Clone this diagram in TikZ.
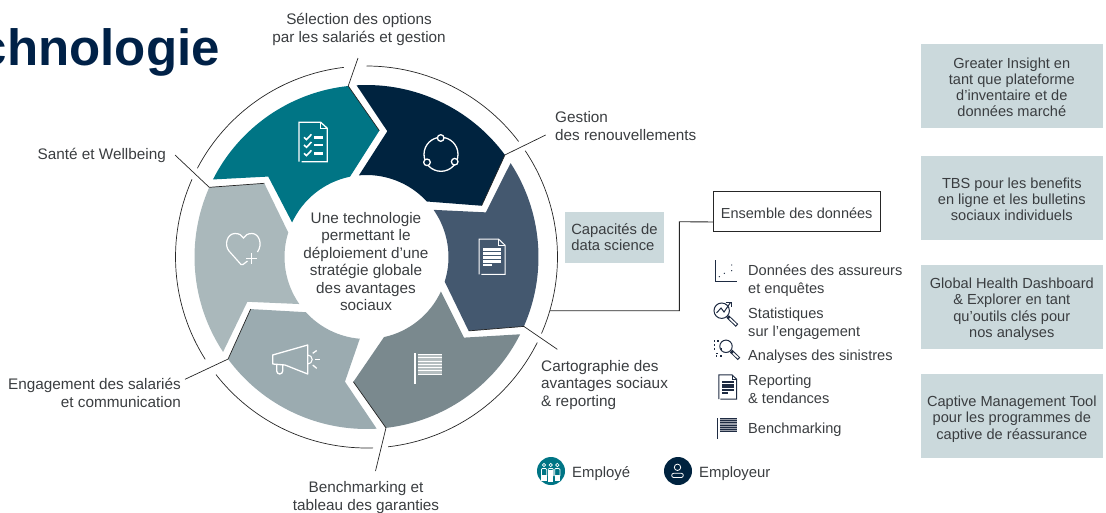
\documentclass[tikz,border=0pt]{standalone}
\usepackage{fontspec}
\setmainfont{Liberation Sans}

\definecolor{inkgrey}{HTML}{3A3D40}
\definecolor{navyseg}{HTML}{00233F}
\definecolor{titleink}{HTML}{002147}
\definecolor{tealseg}{HTML}{007585}
\definecolor{slateseg}{HTML}{44586F}
\definecolor{greyseg}{HTML}{7A898E}
\definecolor{mistseg}{HTML}{9BABB0}
\definecolor{paleseg}{HTML}{AAB8BB}
\definecolor{panelfill}{HTML}{CBD9DC}
\definecolor{legendink}{HTML}{1E2B42}

\newcommand{\panelstrut}[1]{\rule{0pt}{#1}}

\tikzset{
  lbl/.style={text=inkgrey,inner sep=0pt,font=\fontsize{15.3}{17.5}\selectfont},
  smalllbl/.style={text=inkgrey,inner sep=0pt,font=\fontsize{14.6}{17.5}\selectfont},
  panel/.style={fill=panelfill,text=inkgrey,align=center,inner sep=0pt,
    minimum width=181.7pt,minimum height=83.7pt,font=\fontsize{14.6}{16.1}\selectfont},
  leader/.style={line width=0.7pt,draw=black!85},
  ringline/.style={line width=0.7pt,draw=black!85},
  docicon/.pic={
    \draw[#1,line width=1pt] (-10.7,17.7) -- (13,17.7) -- (13,-11.5) -- (6.5,-17.7) -- (-13,-17.7) -- (-13,17.7);
    \draw[#1,line width=.7pt] (6.5,-17.7) -- (6.5,-11.5) -- (13,-11.5);
    \foreach \rowy in {-8.4,-4.6,-0.8,3}
      \fill[#1] (-8.7,\rowy) rectangle (8.7,\rowy+2.8);
    \fill[#1] (-8.7,6.8) rectangle (0,9.6);
  },
  flagicon/.pic={
    \fill[#1] (0,0) rectangle (1.7,30.7);
    \fill[#1,fill opacity=.45] (3.6,1) rectangle (28.3,21);
    \foreach \rowy in {1,4.3,7.6,10.9,14.2,17.5,20.8}
      \draw[#1,line width=.8pt] (3.6,\rowy) -- (28.3,\rowy);
  }
}

\begin{document}
\begin{tikzpicture}[x=1pt,y=1pt,yscale=-1]
\useasboundingbox (0,0) rectangle (1106,512);

\node[text=titleink,inner sep=0pt,anchor=base east,font=\fontsize{51}{51}\selectfont\bfseries] (titleWord) at (220,65) {chnologie};

% ring segments
\begin{scope}[shift={(366.5,257)},yscale=-1]
\fill[tealseg] (153.2:172) arc[start angle=153.2,end angle=96.1,radius=172] -- (84.2:127) -- (101.6:82) arc[start angle=101.6,end angle=155.1,radius=82] -- (140.7:127) -- cycle;
\fill[navyseg] (93.3:172) arc[start angle=93.3,end angle=36.4,radius=172] -- (24:126) -- (42.6:82) arc[start angle=42.6,end angle=95.3,radius=82] -- (80.6:127.5) -- cycle;
\fill[slateseg] (33.1:172) arc[start angle=33.1,end angle=-23.8,radius=172] -- (-35.9:126) -- (-17.5:82) arc[start angle=-17.5,end angle=35.1,radius=82] -- (20.5:127.5) -- cycle;
\fill[greyseg] (-26.7:172) arc[start angle=-26.7,end angle=-83.5,radius=172] -- (-96:125.5) -- (-77.7:82) arc[start angle=-77.7,end angle=-24.8,radius=82] -- (-39.6:126.5) -- cycle;
\fill[mistseg] (-86.6:172) arc[start angle=-86.6,end angle=-143.6,radius=172] -- (-155.8:127) -- (-137.7:82) arc[start angle=-137.7,end angle=-94.7,radius=82] -- (-99.8:126.5) -- cycle;
\fill[paleseg] (-146.5:172) arc[start angle=-146.5,end angle=-203.9,radius=172] -- (-215.8:126) -- (-197.4:82) arc[start angle=-197.4,end angle=-145,radius=82] -- (-159.4:127.3) -- cycle;

% outer ring
\draw[ringline] (96.8:191) arc[start angle=96.8,end angle=152.3,radius=191];
\draw[ringline] (90:191) arc[start angle=90,end angle=37.2,radius=191];
\draw[ringline] (33.8:191) arc[start angle=33.8,end angle=-23.6,radius=191];
\draw[ringline] (-26.6:191) arc[start angle=-26.6,end angle=-83.5,radius=191];
\draw[ringline] (-88:191) arc[start angle=-88,end angle=-142,radius=191];
\draw[ringline] (-147.6:191) arc[start angle=-147.6,end angle=-204,radius=191];

\coordinate (cornerOptions) at (96.1:172);
\coordinate (cornerRenew) at (36.4:172);
\coordinate (cornerMap) at (-23.8:172);
\coordinate (cornerBench) at (-83.5:172);
\coordinate (cornerEngage) at (-143.6:172);
\coordinate (cornerHealth) at (156.1:172);
\coordinate (notchOptions) at (84.2:127);
\coordinate (notchRenew) at (24:126);
\coordinate (notchMap) at (-35.9:126);
\coordinate (notchBench) at (-96:125.5);
\coordinate (notchEngage) at (-155.8:127);
\coordinate (notchHealth) at (144.2:126);
\end{scope}

% leaders
\coordinate (endOptions) at (358,58);
\coordinate (endRenew) at (545.7,135);
\coordinate (endMap) at (557.3,349.3);
\coordinate (endBench) at (375.5,471);
\coordinate (endEngage) at (185,379.3);
\coordinate (endHealth) at (175,155);
\draw[leader] (endOptions) -- (cornerOptions) -- (notchOptions);
\draw[leader] (endRenew) -- (cornerRenew) -- (notchRenew);
\draw[leader] (endMap) -- (cornerMap) -- (notchMap);
\draw[leader] (endBench) -- (cornerBench) -- (notchBench);
\draw[leader] (endEngage) -- (cornerEngage) -- (notchEngage);
\draw[leader] (endHealth) -- (cornerHealth) -- (notchHealth);

% ring labels
\node[lbl,align=center] (hubText) at (366,261.5) {Une technologie\\permettant le\\déploiement d’une\\stratégie globale\\des avantages\\sociaux};
\node[lbl,align=center] (optionsLabel) at (359,29.5) {Sélection des options\\par les salariés et gestion};
\node[lbl,align=left,anchor=west] (renewLabel) at (555,126) {Gestion\\des renouvellements};
\node[lbl,align=left,anchor=west] (mapLabel) at (541,385) {Cartographie des\\avantages sociaux\\\& reporting};
\node[lbl,align=center] (benchLabel) at (366,497.3) {Benchmarking et\\tableau des garanties};
\node[lbl,align=right,anchor=east] (engageLabel) at (181,393) {Engagement des salariés\\et communication};
\node[lbl,anchor=east] (healthLabel) at (166,155) {Santé et Wellbeing};

% checklist icon
\draw[white,line width=1.3pt] (301.7,161.7) -- (327.3,161.7) -- (327.3,128.3) -- (320.7,122.3) -- (299,122.3) -- (299,161.7);
\draw[white,line width=.8pt] (320.7,122.3) -- (320.7,128.3) -- (327.3,128.3);
\foreach \rowy in {137.3,145,153.3} {
  \draw[white,line width=1.6pt] (304,\rowy) -- (306.5,\rowy+2.3) -- (311.5,\rowy-3);
  \fill[white] (314,\rowy-1.3) rectangle (322.7,\rowy+1.2);
}

% cycle icon
\draw[white,line width=1.3pt] (441,154.3) circle (17);
\foreach \dotx/\doty in {440.7/138,427/162.3,454.7/161.7}
  \draw[white,fill=navyseg,line width=1.3pt] (\dotx,\doty) circle (3.3);

% document and flag on the ring
\pic[yscale=-1] at (492,256.7) {docicon=white};
\pic[yscale=-1] at (414,353.3) {flagicon=white};

% megaphone icon
\draw[white,line width=1.3pt,line join=round] (272.7,364) -- (272.7,355) -- (307.7,345) -- (307.7,374) -- (285,365) -- cycle;
\draw[white,line width=1.3pt] (276.7,365) -- (276.7,371) arc[start angle=180,end angle=0,x radius=3,y radius=3] -- (282.7,365);
\draw[white,line width=1.1pt] (307.7,355) arc[start angle=-90,end angle=90,radius=4.5];
\draw[white,line width=1.3pt] (312.7,353.3) -- (316.7,350.5);
\draw[white,line width=1.3pt] (315,359.3) -- (320,359.3);
\draw[white,line width=1.3pt] (312.7,365) -- (316.7,368.3);

% heart icon
\draw[white,line width=1.2pt] (247.5,261) -- (243,264.5) -- (241,264.5) -- (229,251) .. controls (224,245) and (227,233.5) .. (235,233.5) .. controls (239,233.5) and (242,235) .. (243.5,238) .. controls (245,235) and (248,233.5) .. (252,233.5) .. controls (259,233.5) and (263,244) .. (257.5,252);
\draw[white,line width=1.2pt] (251.7,252.8) -- (251.7,263.8) (246.2,258.3) -- (257.2,258.3);

% data side
\node[fill=panelfill,text=inkgrey,align=left,inner sep=0pt,minimum width=99pt,minimum height=50.4pt,font=\fontsize{14.8}{16}\selectfont] (scienceBox) at (614.5,237.5) {Capacités de\\data science};
\node[draw=black!85,line width=0.9pt,text=inkgrey,inner sep=0pt,minimum width=166.7pt,minimum height=40pt,font=\fontsize{14.5}{16}\selectfont] (ensemble) at (796.7,211.7) {\panelstrut{14.5pt}Ensemble des données};
\coordinate (ringTie) at (550,310.7);
\coordinate (tieUp) at (679.3,221.7);
\draw[line width=.9pt,draw=black!85] (ringTie) -| (tieUp) -- (ensemble.187);

% legend
\node[smalllbl,align=left,anchor=west] (scatterLabel) at (748,280.5) {Données des assureurs\\et enquêtes};
\node[smalllbl,align=left,anchor=west] (statsLabel) at (748,323.5) {Statistiques\\sur l’engagement};
\node[smalllbl,anchor=west] (claimsLabel) at (748,357) {Analyses des sinistres};
\node[smalllbl,align=left,anchor=west] (trendLabel) at (748,389.5) {Reporting\\\& tendances};
\node[smalllbl,anchor=west] (benchKey) at (748,430) {Benchmarking};

% scatter icon
\draw[legendink,line width=.8pt] (715.3,260) -- (715.3,281) -- (736.7,281);
\foreach \dotx/\doty in {731.7/265,731.7/270.7,724.3/273.3,719.3/276.7}
  \fill[legendink] (\dotx,\doty) circle (.7);

% engagement lens
\draw[legendink,line width=1pt] (721.7,310.7) circle (7.7);
\draw[legendink,line width=3.6pt] (727.6,316.5) -- (737,325.5);
\draw[white,line width=1.6pt] (729.5,318.3) -- (736.2,324.7);
\draw[legendink,line width=1pt] (716.5,313) -- (721,308) -- (724,312) -- (730.5,302.5);
\draw[legendink,line width=1pt] (725.5,302) -- (731,302) -- (731,307);

% claims lens
\draw[legendink,line width=1pt] (726,346.3) circle (6.2);
\draw[legendink,line width=3.6pt] (731,351) -- (739,358.8);
\draw[white,line width=1.6pt] (733,353) -- (738.2,358);
\foreach \dotx/\doty in {714.5/341,718/341,714.5/345,714.5/349,721.5/349,717/353.5,721/356,716.5/356}
  \fill[legendink] (\dotx-.6,\doty-.6) rectangle (\dotx+.6,\doty+.6);

\pic[scale=.68,yscale=-1] at (727.7,387) {docicon=legendink};
\pic[scale=.69,yscale=-1] at (717.3,417.5) {flagicon=legendink};

% people keys
\fill[tealseg] (551,471) circle (14);
\foreach \headx in {544,550.7,557.3} {
  \draw[white,line width=.7pt] (\headx,465) circle (1.7);
  \draw[white,line width=.7pt,rounded corners=1pt] (\headx-2.6,476) -- (\headx-2.6,468.5) -- (\headx+2.6,468.5) -- (\headx+2.6,476);
}
\fill[white] (548.2,470) rectangle (553.2,482);
\fill[white] (541.4,475) rectangle (546.6,480.5);
\fill[white] (554.7,475) rectangle (559.9,480.5);
\node[smalllbl,anchor=west,font=\fontsize{14.9}{17.5}\selectfont] (employeeKey) at (572,474) {Employé};

\fill[navyseg] (678,471) circle (14);
\draw[white,line width=.8pt] (677.5,467.3) circle (3.2);
\draw[white,line width=.8pt,rounded corners=2pt] (671.7,477.5) -- (671.7,473.3) -- (683.3,473.3) -- (683.3,477.5) -- cycle;
\node[smalllbl,anchor=west,font=\fontsize{14.9}{17.5}\selectfont] (employerKey) at (699,474) {Employeur};

% right panels
\node[panel] (insightPanel) at (1011.8,85.8) {\panelstrut{13.8pt}Greater Insight en\\tant que plateforme\\d’inventaire et de\\données marché};
\node[panel] (tbsPanel) at (1011.8,197.8) {\panelstrut{13.8pt}TBS pour les benefits\\en ligne et les bulletins\\sociaux individuels};
\node[panel] (healthPanel) at (1011.8,306.8) {\panelstrut{15.5pt}Global Health Dashboard\\\& Explorer en tant\\qu’outils clés pour\\nos analyses};
\node[panel] (captivePanel) at (1011.8,416) {\panelstrut{17pt}Captive Management Tool\\pour les programmes de\\captive de réassurance};
\end{tikzpicture}
\end{document}
